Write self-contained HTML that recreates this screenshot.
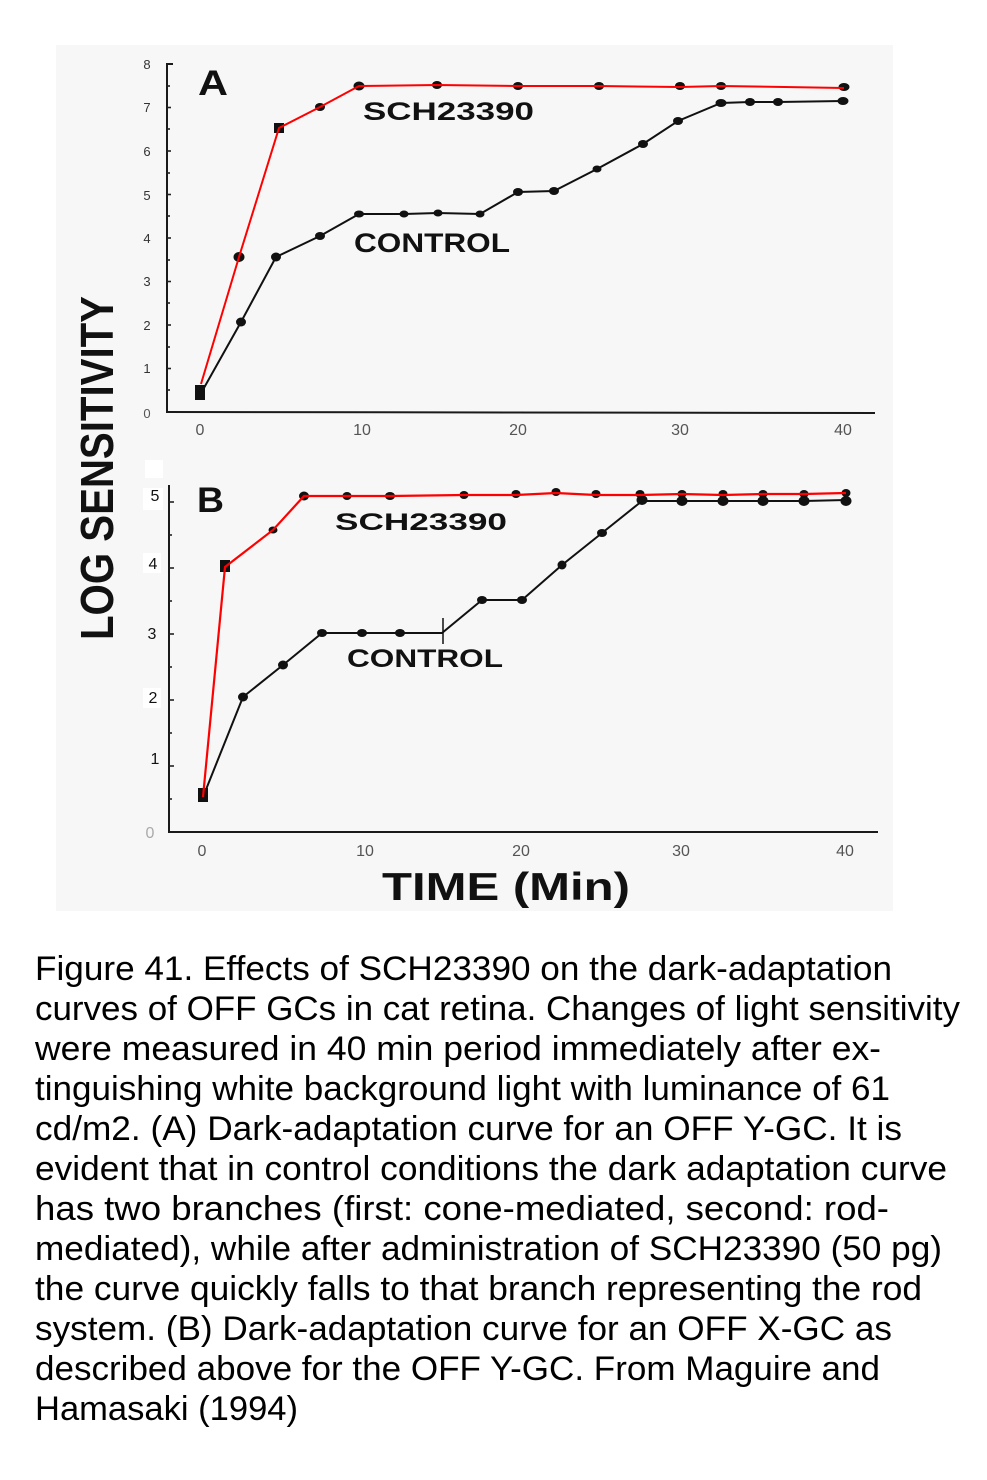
<!DOCTYPE html>
<html><head><meta charset="utf-8"><style>
html,body{margin:0;padding:0;background:#fff;}
svg{display:block;}
</style></head><body>
<svg width="987" height="1480" viewBox="0 0 987 1480" xmlns="http://www.w3.org/2000/svg" font-family="Liberation Sans, sans-serif">
<rect x="0" y="0" width="987" height="1480" fill="#fff"/>
<rect x="56" y="45" width="837" height="866" fill="#f7f7f7"/>

<!-- ===== Panel A ===== -->
<g stroke="#1a1a1a" stroke-width="2" fill="none">
  <line x1="167" y1="63" x2="167" y2="413"/>
  <line x1="167" y1="64" x2="173" y2="64"/>
  <line x1="166" y1="412" x2="875" y2="413"/>
</g>
<g stroke="#222" stroke-width="1.6">
  <line x1="167" y1="107.5" x2="171" y2="107.5"/>
  <line x1="167" y1="151" x2="171" y2="151"/>
  <line x1="167" y1="194.5" x2="171" y2="194.5"/>
  <line x1="167" y1="238" x2="171" y2="238"/>
  <line x1="167" y1="281.5" x2="171" y2="281.5"/>
  <line x1="167" y1="325" x2="171" y2="325"/>
  <line x1="167" y1="368.5" x2="171" y2="368.5"/>
  <line x1="167" y1="86" x2="170" y2="86"/>
  <line x1="167" y1="129" x2="170" y2="129"/>
  <line x1="167" y1="173" x2="170" y2="173"/>
  <line x1="167" y1="216" x2="170" y2="216"/>
  <line x1="167" y1="260" x2="170" y2="260"/>
  <line x1="167" y1="303" x2="170" y2="303"/>
  <line x1="167" y1="347" x2="170" y2="347"/>
  <line x1="167" y1="390" x2="170" y2="390"/>
</g>
<g font-size="13" fill="#333" text-anchor="middle">
  <text x="147" y="69">8</text>
  <text x="147" y="112">7</text>
  <text x="147" y="156">6</text>
  <text x="147" y="200">5</text>
  <text x="147" y="243">4</text>
  <text x="147" y="286">3</text>
  <text x="147" y="330">2</text>
  <text x="147" y="373">1</text>
  <text x="147" y="418" fill="#555">0</text>
</g>
<g font-size="16" fill="#555" text-anchor="middle">
  <text x="200" y="435">0</text>
  <text x="362" y="435">10</text>
  <text x="518" y="435">20</text>
  <text x="680" y="435">30</text>
  <text x="843" y="435">40</text>
</g>

<!-- control A -->
<polyline fill="none" stroke="#111" stroke-width="2" points="200,395 241,322 276,257 320,236 359,214 404,214 438,213 480,214 518,192 554,191 597,169 643,144 678,121 721,103 750,102 778,102 843,101"/>
<g fill="#111">
  <ellipse cx="241" cy="322" rx="5" ry="4.5"/>
  <ellipse cx="276" cy="257" rx="5" ry="4.5"/>
  <ellipse cx="320" cy="236" rx="5" ry="4"/>
  <ellipse cx="359" cy="214" rx="5" ry="3.5"/>
  <ellipse cx="404" cy="214" rx="4.5" ry="3.5"/>
  <ellipse cx="438" cy="213" rx="4.5" ry="3.5"/>
  <ellipse cx="480" cy="214" rx="4.5" ry="3.5"/>
  <ellipse cx="518" cy="192" rx="5" ry="4"/>
  <ellipse cx="554" cy="191" rx="5" ry="4"/>
  <ellipse cx="597" cy="169" rx="4.5" ry="3.5"/>
  <ellipse cx="643" cy="144" rx="5" ry="4"/>
  <ellipse cx="678" cy="121" rx="5" ry="4"/>
  <ellipse cx="721" cy="103" rx="5.5" ry="4"/>
  <ellipse cx="750" cy="102" rx="5" ry="4"/>
  <ellipse cx="778" cy="102" rx="5" ry="4"/>
  <ellipse cx="843" cy="101" rx="5.5" ry="4"/>
  <rect x="195" y="385" width="10" height="15"/>
</g>
<!-- SCH A -->
<g fill="#111">
  <ellipse cx="239" cy="257" rx="5.5" ry="5"/>
  <rect x="274" y="123" width="10" height="10"/>
  <ellipse cx="320" cy="107" rx="5" ry="4"/>
  <ellipse cx="359" cy="86" rx="5.5" ry="4.5"/>
  <ellipse cx="437" cy="85" rx="5" ry="4"/>
  <ellipse cx="518" cy="86" rx="5" ry="4"/>
  <ellipse cx="599" cy="86" rx="5" ry="4"/>
  <ellipse cx="680" cy="86" rx="5" ry="4"/>
  <ellipse cx="721" cy="86" rx="5" ry="4"/>
  <ellipse cx="844" cy="87" rx="5.5" ry="4"/>
</g>
<polyline fill="none" stroke="#ff0000" stroke-width="2" points="201,384 239,257 279,128 320,107 359,86 437,85 518,86 599,86 680,87 721,86 844,88"/>

<text x="198" y="95" font-size="35" font-weight="bold" fill="#111" textLength="30" lengthAdjust="spacingAndGlyphs">A</text>
<text x="363" y="120" font-size="25" font-weight="bold" fill="#111" textLength="171" lengthAdjust="spacingAndGlyphs">SCH23390</text>
<text x="354" y="252" font-size="27" font-weight="bold" fill="#111" textLength="156" lengthAdjust="spacingAndGlyphs">CONTROL</text>

<!-- ===== Panel B ===== -->
<g stroke="#1a1a1a" stroke-width="2" fill="none">
  <line x1="169" y1="485" x2="169" y2="833"/>
  <line x1="168" y1="832" x2="878" y2="832"/>
</g>
<g stroke="#222" stroke-width="1.6">
  <line x1="169" y1="502" x2="174" y2="502"/>
  <line x1="169" y1="568" x2="174" y2="568"/>
  <line x1="169" y1="634" x2="174" y2="634"/>
  <line x1="169" y1="700" x2="174" y2="700"/>
  <line x1="169" y1="766" x2="174" y2="766"/>
  <line x1="169" y1="535" x2="172" y2="535"/>
  <line x1="169" y1="601" x2="172" y2="601"/>
  <line x1="169" y1="667" x2="172" y2="667"/>
  <line x1="169" y1="733" x2="172" y2="733"/>
  <line x1="169" y1="799" x2="172" y2="799"/>
</g>
<g fill="#fff">
  <rect x="145" y="460" width="18" height="18"/>
  <rect x="143" y="488" width="20" height="22"/>
  <rect x="143" y="553" width="18" height="20"/>
  <rect x="143" y="688" width="18" height="20"/>
</g>
<g font-size="16" fill="#111" text-anchor="middle">
  <text x="155" y="501">5</text>
  <text x="153" y="569">4</text>
  <text x="152" y="639">3</text>
  <text x="153" y="703">2</text>
  <text x="155" y="764">1</text>
  <text x="150" y="838" fill="#aaa">0</text>
</g>
<g font-size="16" fill="#555" text-anchor="middle">
  <text x="202" y="856">0</text>
  <text x="365" y="856">10</text>
  <text x="521" y="856">20</text>
  <text x="681" y="856">30</text>
  <text x="845" y="856">40</text>
</g>

<!-- control B -->
<polyline fill="none" stroke="#111" stroke-width="2" points="203,797 243,697 283,665 322,633 362,633 400,633 442,633 482,600 522,600 562,565 602,533 642,501 682,501 723,501 763,501 804,501 846,500"/>
<line x1="443" y1="618" x2="443" y2="644" stroke="#111" stroke-width="1.5"/>
<g fill="#111">
  <ellipse cx="243" cy="697" rx="5" ry="4.5"/>
  <ellipse cx="283" cy="665" rx="5" ry="4.5"/>
  <ellipse cx="322" cy="633" rx="5" ry="4"/>
  <ellipse cx="362" cy="633" rx="5" ry="4"/>
  <ellipse cx="400" cy="633" rx="5" ry="4"/>
  <ellipse cx="482" cy="600" rx="5" ry="4"/>
  <ellipse cx="522" cy="600" rx="5" ry="4"/>
  <ellipse cx="562" cy="565" rx="4.5" ry="4.5"/>
  <ellipse cx="602" cy="533" rx="5" ry="4"/>
  <ellipse cx="642" cy="500" rx="5.5" ry="5"/>
  <ellipse cx="682" cy="501" rx="5.5" ry="5"/>
  <ellipse cx="723" cy="501" rx="5.5" ry="5"/>
  <ellipse cx="763" cy="501" rx="5.5" ry="5"/>
  <ellipse cx="804" cy="501" rx="5.5" ry="5"/>
  <ellipse cx="846" cy="501" rx="5.5" ry="5"/>
  <rect x="198" y="788" width="10" height="14"/>
</g>
<!-- SCH B -->
<g fill="#111">
  <rect x="220" y="560" width="10" height="12"/>
  <ellipse cx="273" cy="530" rx="4.5" ry="3.5"/>
  <ellipse cx="304" cy="496" rx="5" ry="4.5"/>
  <ellipse cx="347" cy="496" rx="4.5" ry="4"/>
  <ellipse cx="390" cy="496" rx="5" ry="4"/>
  <ellipse cx="464" cy="495" rx="4.5" ry="4"/>
  <ellipse cx="516" cy="494" rx="4.5" ry="4"/>
  <ellipse cx="556" cy="492" rx="4.5" ry="4"/>
  <ellipse cx="596" cy="494" rx="4.5" ry="4"/>
  <ellipse cx="640" cy="494" rx="4.5" ry="4"/>
  <ellipse cx="682" cy="494" rx="4.5" ry="4"/>
  <ellipse cx="723" cy="494" rx="4.5" ry="4"/>
  <ellipse cx="763" cy="494" rx="4.5" ry="4"/>
  <ellipse cx="804" cy="494" rx="4.5" ry="4"/>
  <ellipse cx="846" cy="493" rx="4.5" ry="4"/>
</g>
<polyline fill="none" stroke="#ff0000" stroke-width="2.2" points="203,797 225,567 273,530 304,496 347,496 390,496 464,495 516,495 556,493 596,495 640,495 682,494 723,495 763,494 804,494 846,493"/>

<text x="197" y="512" font-size="35" font-weight="bold" fill="#111" textLength="27" lengthAdjust="spacingAndGlyphs">B</text>
<text x="335" y="530" font-size="24" font-weight="bold" fill="#111" textLength="172" lengthAdjust="spacingAndGlyphs">SCH23390</text>
<text x="347" y="667" font-size="25" font-weight="bold" fill="#111" textLength="156" lengthAdjust="spacingAndGlyphs">CONTROL</text>

<!-- axis titles -->
<text transform="translate(113,640) rotate(-90)" font-size="46" font-weight="bold" fill="#111" textLength="344" lengthAdjust="spacingAndGlyphs">LOG SENSITIVITY</text>
<text x="382" y="900" font-size="39" font-weight="bold" fill="#111" textLength="248" lengthAdjust="spacingAndGlyphs">TIME (Min)</text>

<!-- caption -->
<g font-size="34.5" fill="#000">
  <text x="35" y="980" textLength="857" lengthAdjust="spacingAndGlyphs">Figure 41. Effects of SCH23390 on the dark-adaptation</text>
  <text x="35" y="1020" textLength="925" lengthAdjust="spacingAndGlyphs">curves of OFF GCs in cat retina. Changes of light sensitivity</text>
  <text x="35" y="1060" textLength="846" lengthAdjust="spacingAndGlyphs">were measured in 40 min period immediately after ex-</text>
  <text x="35" y="1100" textLength="855" lengthAdjust="spacingAndGlyphs">tinguishing white background light with luminance of 61</text>
  <text x="35" y="1140" textLength="867" lengthAdjust="spacingAndGlyphs">cd/m2. (A) Dark-adaptation curve for an OFF Y-GC. It is</text>
  <text x="35" y="1180" textLength="912" lengthAdjust="spacingAndGlyphs">evident that in control conditions the dark adaptation curve</text>
  <text x="35" y="1220" textLength="854" lengthAdjust="spacingAndGlyphs">has two branches (first: cone-mediated, second: rod-</text>
  <text x="35" y="1260" textLength="907" lengthAdjust="spacingAndGlyphs">mediated), while after administration of SCH23390 (50 pg)</text>
  <text x="35" y="1300" textLength="887" lengthAdjust="spacingAndGlyphs">the curve quickly falls to that branch representing the rod</text>
  <text x="35" y="1340" textLength="857" lengthAdjust="spacingAndGlyphs">system. (B) Dark-adaptation curve for an OFF X-GC as</text>
  <text x="35" y="1380" textLength="845" lengthAdjust="spacingAndGlyphs">described above for the OFF Y-GC. From Maguire and</text>
  <text x="35" y="1420" textLength="263" lengthAdjust="spacingAndGlyphs">Hamasaki (1994)</text>
</g>
</svg>
</body></html>
